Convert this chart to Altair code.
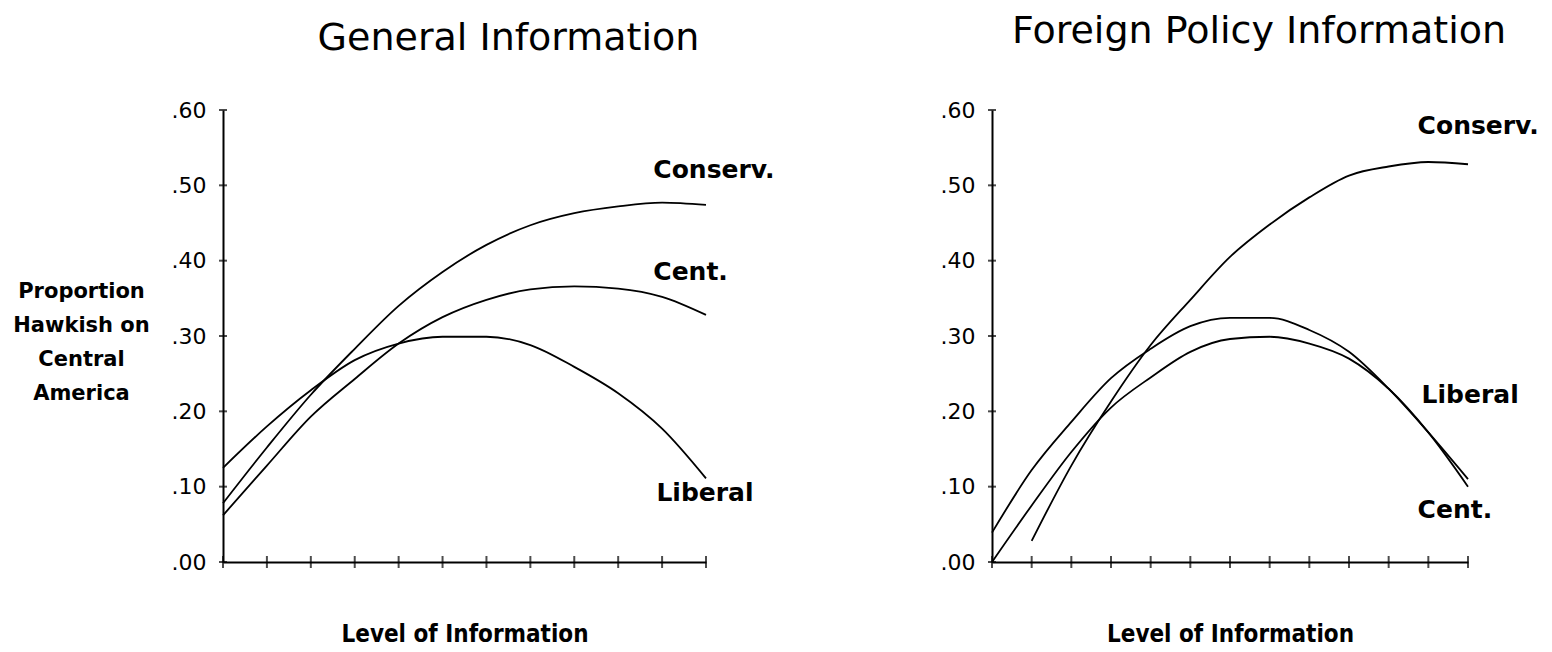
import altair as alt
import pandas as pd

# ---- data ----
GEN_T = list(range(12))            # 12 tick positions on "General Information"
gen_conserv = [0.078, 0.152, 0.222, 0.283, 0.340, 0.385, 0.421, 0.447, 0.463, 0.472, 0.477, 0.474]
gen_cent = [0.062, 0.128, 0.193, 0.243, 0.290, 0.325, 0.348, 0.362, 0.366, 0.363, 0.352, 0.328]
gen_liberal = [0.125, 0.180, 0.228, 0.268, 0.290, 0.299, 0.299, 0.288, 0.259, 0.224, 0.177, 0.111]

FP_T = list(range(13))             # 13 tick positions on "Foreign Policy Information"
fp_conserv = [None, 0.028, 0.128, 0.213, 0.288, 0.348, 0.405, 0.448, 0.484, 0.513, 0.525, 0.531, 0.528]
fp_liberal = [0.039, 0.122, 0.186, 0.244, 0.283, 0.313, 0.324, 0.324, 0.308, 0.279, 0.230, 0.172, 0.110]
fp_cent = [0.000, 0.075, 0.146, 0.205, 0.245, 0.279, 0.296, 0.299, 0.290, 0.270, 0.230, 0.172, 0.100]

gen_label_names = ["Conserv.", "Cent.", "Liberal"]
gen_label_t = [9.8, 9.8, 9.87]
gen_label_v = [0.52, 0.385, 0.092]

fp_label_names = ["Conserv.", "Liberal", "Cent."]
fp_label_t = [10.73, 10.83, 10.73]
fp_label_v = [0.579, 0.222, 0.069]

Y_TICKS = [0.0, 0.1, 0.2, 0.3, 0.4, 0.5, 0.6]
Y_TITLE = ["Proportion", "Hawkish on", "Central", "America"]
X_TITLE = "Level of Information"

FONT = "DejaVu Sans"
COND = "DejaVu Sans Condensed, DejaVu Sans"


def panel(t_vals, series, lab_names, lab_t, lab_v, title, title_dx, title_offset,
          width, with_ytitle):
    n = t_vals[-1]
    rows = []
    for name, vals in series.items():
        for t, v in zip(t_vals, vals):
            if v is not None:
                rows.append({"t": t, "v": v, "s": name})
    df = pd.DataFrame(rows)
    xt = pd.DataFrame({"t": t_vals, "v": [0.0] * len(t_vals)})
    yt = pd.DataFrame({"t": [0] * len(Y_TICKS), "v": Y_TICKS})
    lab = pd.DataFrame({"t": lab_t, "v": lab_v, "name": lab_names})

    xaxis = alt.Axis(labels=False, ticks=False, grid=False, domainColor="black",
                     domainWidth=2, title=X_TITLE, titleFont=COND, titleFontSize=24,
                     titleFontWeight="bold", titleColor="black", titlePadding=60)
    ykw = dict(values=Y_TICKS, labelExpr="replace(format(datum.value, '.2f'), '0.', '.')",
               ticks=False, grid=False, domainColor="black", domainWidth=2,
               labelFont=FONT, labelFontSize=22, labelColor="black", labelPadding=17)
    if with_ytitle:
        ykw.update(title=Y_TITLE, titleAngle=0, titleAlign="center", titleBaseline="top",
                   titleX=-142, titleY=170, titleFont=FONT, titleFontSize=21,
                   titleFontWeight="bold", titleLineHeight=34, titleColor="black")
    else:
        ykw.update(title=None)
    yaxis = alt.Axis(**ykw)

    x = alt.X("t:Q", scale=alt.Scale(domain=[0, n], nice=False, zero=False), axis=xaxis)
    y = alt.Y("v:Q", scale=alt.Scale(domain=[0, 0.6], nice=False), axis=yaxis)

    lines = alt.Chart(df).mark_line(color="black", strokeWidth=1.8,
                                    interpolate="monotone").encode(x=x, y=y, detail="s:N")
    xticks = alt.Chart(xt).mark_tick(orient="vertical", size=12, thickness=2,
                                     color="black").encode(x=x, y=y)
    yticks = alt.Chart(yt).mark_tick(orient="horizontal", size=8, thickness=2,
                                     color="black").encode(x=x, y=y)
    labels = alt.Chart(lab).mark_text(align="left", baseline="middle", font=FONT,
                                      fontSize=25, fontWeight="bold",
                                      color="black").encode(x=x, y=y, text="name:N")
    return alt.layer(lines, xticks, yticks, labels).properties(
        width=width, height=452,
        title=alt.TitleParams(text=title, font=FONT, fontSize=38, fontWeight="normal",
                              color="black", anchor="middle", frame="group",
                              dx=title_dx, offset=title_offset, baseline="bottom"),
    )


left = panel(GEN_T, {"Conserv.": gen_conserv, "Cent.": gen_cent, "Liberal": gen_liberal},
             gen_label_names, gen_label_t, gen_label_v, "General Information", 44, 3,
             483, True)
right = panel(FP_T, {"Conserv.": fp_conserv, "Liberal": fp_liberal, "Cent.": fp_cent},
              fp_label_names, fp_label_t, fp_label_v, "Foreign Policy Information", 29, 10,
              476, False)

chart = alt.hconcat(left, right, spacing=286, bounds="flush").properties(
    padding={"left": 4, "top": 4, "right": 0, "bottom": 0},
    background="white",
).configure_view(stroke="transparent")

chart.save("out.html", embed_options={"renderer": "svg", "actions": False})
